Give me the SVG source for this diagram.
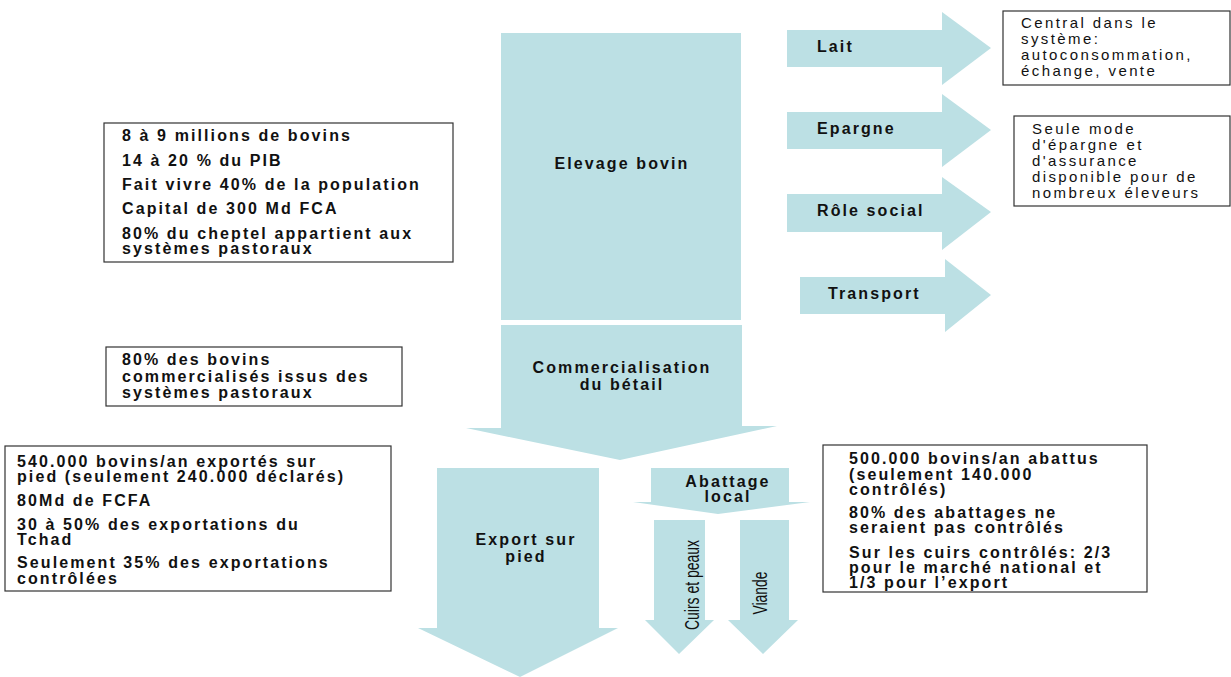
<svg xmlns="http://www.w3.org/2000/svg" width="1231" height="677" viewBox="0 0 1231 677">
<style>
.sh{fill:#bce0e4;stroke:none}
.bx{fill:#fff;stroke:#333;stroke-width:1.2}
.b{font-family:"Liberation Sans",Arial,sans-serif;font-weight:bold;font-size:16px;letter-spacing:2.1px;fill:#111}
.r{font-family:"Liberation Sans",Arial,sans-serif;font-size:15px;letter-spacing:2.4px;fill:#111}
.c{text-anchor:middle}
.v{font-family:"Liberation Sans",Arial,sans-serif;font-size:20px;fill:#111}
</style>
<rect width="1231" height="677" fill="#fff"/>
<g id="connectors">
<polygon id="arr-lait" class="sh" points="787,30 942,30 942,12 991,48 942,85 942,67 787,67"/>
<polygon id="arr-epargne" class="sh" points="787,112 942,112 942,94 991,130 942,167 942,149 787,149"/>
<polygon id="arr-role" class="sh" points="787,194 942,194 942,177 991,212 942,250 942,232 787,232"/>
<polygon id="arr-transport" class="sh" points="800,277 945,277 945,259 991,295 945,332 945,314 800,314"/>
<polygon id="arr-comm" class="sh" points="501,325 742,325 742,426 777,426 620,460 466,428 501,428"/>
<polygon id="arr-export" class="sh" points="437,468 599,468 599,628 618,628 520,677 418,628 437,628"/>
<polygon id="arr-abattage" class="sh" points="651,468 789,468 789,502 810,502 718,514 633,502 651,502"/>
<polygon id="arr-cuirs" class="sh" points="654,520 705,520 705,620 714,620 679,654 645,620 654,620"/>
<polygon id="arr-viande" class="sh" points="740,520 789,520 789,620 798,620 763,654 728,620 740,620"/>
</g>
<g id="elevage">
<rect class="sh" x="501" y="33" width="240" height="287"/>
<text class="b c" x="622" y="169">Elevage bovin</text>
</g>
<g id="lait-label"><text class="b" x="817" y="52">Lait</text></g>
<g id="epargne-label"><text class="b" x="817" y="134">Epargne</text></g>
<g id="role-label"><text class="b" x="817" y="216">Rôle social</text></g>
<g id="transport-label"><text class="b" x="828" y="299">Transport</text></g>
<g id="comm-label">
<text class="b c" x="622" y="373">Commercialisation</text>
<text class="b c" x="622" y="390">du bétail</text>
</g>
<g id="export-label">
<text class="b c" x="526" y="545">Export sur</text>
<text class="b c" x="526" y="562">pied</text>
</g>
<g id="abattage-label">
<text class="b c" x="728" y="487">Abattage</text>
<text class="b c" x="728" y="502">local</text>
</g>
<g id="cuirs-label">
<text class="v" transform="translate(699,585) rotate(-90)" text-anchor="middle" textLength="90" lengthAdjust="spacingAndGlyphs">Cuirs et peaux</text>
</g>
<g id="viande-label">
<text class="v" transform="translate(767,593) rotate(-90)" text-anchor="middle" textLength="43" lengthAdjust="spacingAndGlyphs">Viande</text>
</g>
<g id="box-lait">
<rect class="bx" x="1003" y="11" width="227" height="74"/>
<text class="r" x="1021" y="28">Central dans le</text>
<text class="r" x="1021" y="44">système:</text>
<text class="r" x="1021" y="60">autoconsommation,</text>
<text class="r" x="1021" y="76">échange, vente</text>
</g>
<g id="box-epargne">
<rect class="bx" x="1014" y="116" width="216" height="90"/>
<text class="r" x="1032" y="134">Seule mode</text>
<text class="r" x="1032" y="150">d'épargne et</text>
<text class="r" x="1032" y="166">d'assurance</text>
<text class="r" x="1032" y="182">disponible pour de</text>
<text class="r" x="1032" y="198">nombreux éleveurs</text>
</g>
<g id="box-elevage">
<rect class="bx" x="104" y="123" width="349" height="139"/>
<text class="b" x="122" y="141">8 à 9 millions de bovins</text>
<text class="b" x="122" y="166">14 à 20 % du PIB</text>
<text class="b" x="122" y="190">Fait vivre 40% de la population</text>
<text class="b" x="122" y="214">Capital de 300 Md FCA</text>
<text class="b" x="122" y="239">80% du cheptel appartient aux</text>
<text class="b" x="122" y="254">systèmes pastoraux</text>
</g>
<g id="box-comm">
<rect class="bx" x="106" y="347" width="296" height="59"/>
<text class="b" x="122" y="365">80% des bovins</text>
<text class="b" x="122" y="382">commercialisés issus des</text>
<text class="b" x="122" y="398">systèmes pastoraux</text>
</g>
<g id="box-export">
<rect class="bx" x="5" y="446" width="386" height="145"/>
<text class="b" x="17" y="467">540.000 bovins/an exportés sur</text>
<text class="b" x="17" y="482">pied (seulement 240.000 déclarés)</text>
<text class="b" x="17" y="506">80Md de FCFA</text>
<text class="b" x="17" y="530">30 à 50% des exportations du</text>
<text class="b" x="17" y="545">Tchad</text>
<text class="b" x="17" y="568">Seulement 35% des exportations</text>
<text class="b" x="17" y="584">contrôlées</text>
</g>
<g id="box-abattage">
<rect class="bx" x="823" y="445" width="324" height="147"/>
<text class="b" x="849" y="464">500.000 bovins/an abattus</text>
<text class="b" x="849" y="480">(seulement 140.000</text>
<text class="b" x="849" y="495">contrôlés)</text>
<text class="b" x="849" y="518">80% des abattages ne</text>
<text class="b" x="849" y="533">seraient pas contrôlés</text>
<text class="b" x="849" y="558">Sur les cuirs contrôlés: 2/3</text>
<text class="b" x="849" y="573">pour le marché national et</text>
<text class="b" x="849" y="588">1/3 pour l’export</text>
</g>
</svg>
